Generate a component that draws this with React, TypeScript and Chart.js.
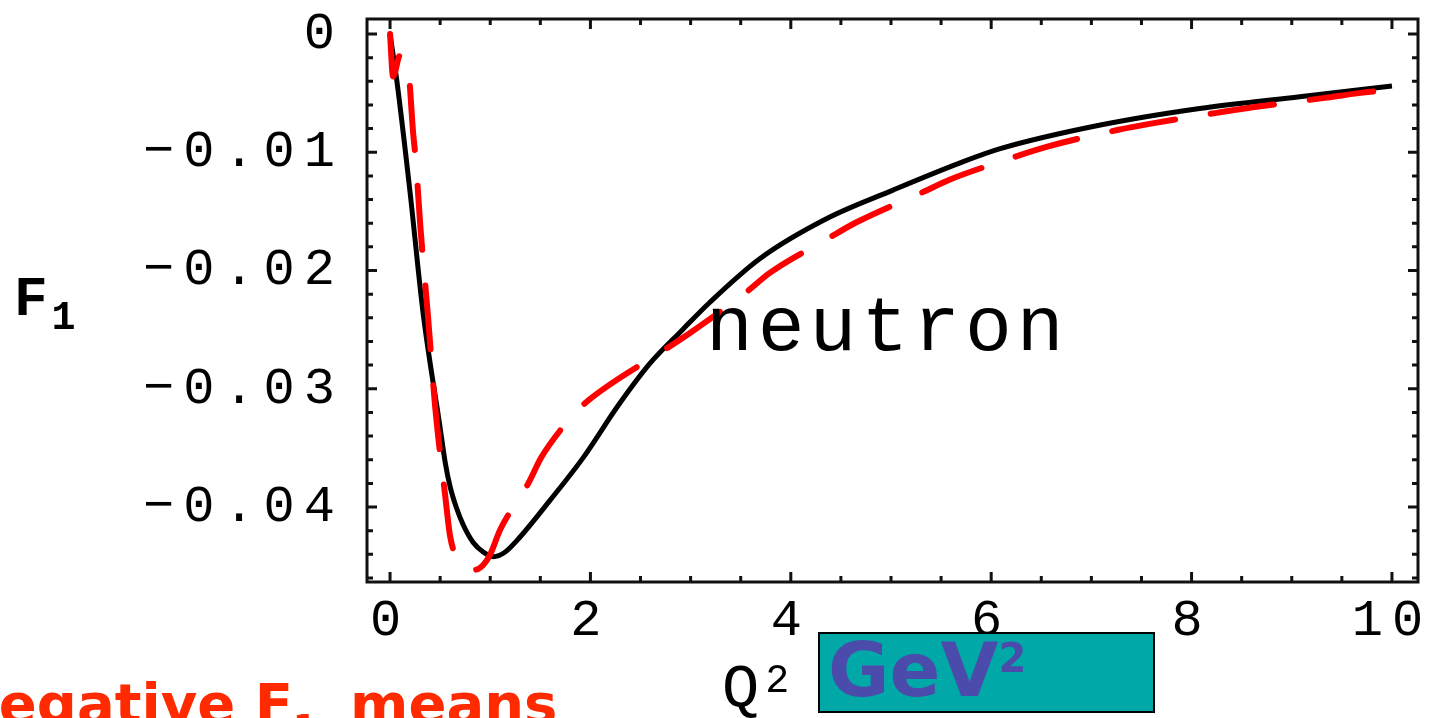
import React, { useEffect, useRef } from 'react';
import { Chart, registerables } from 'chart.js';

Chart.register(...registerables);

// ---- data ----
const blackX = [0, 0.067, 0.2, 0.33, 0.5, 0.55, 0.6, 0.66, 0.73, 0.83, 0.93, 1.03, 1.15, 1.27, 1.6, 1.93, 2.27, 2.59, 2.92, 3.19, 3.69, 4.36, 5.02, 5.69, 6.09, 7.09, 8.08, 9.08, 10];
const blackY = [0, -0.0039, -0.0134, -0.0236, -0.0333, -0.0362, -0.0383, -0.0400, -0.0415, -0.0430, -0.0438, -0.0442, -0.0438, -0.0428, -0.0394, -0.0358, -0.0315, -0.0279, -0.0250, -0.0227, -0.0190, -0.0156, -0.0132, -0.0109, -0.0097, -0.0077, -0.0063, -0.0053, -0.0044];

const redX = [0, 0.03, 0.1, 0.18, 0.23, 0.26, 0.3, 0.38, 0.45, 0.55, 0.6, 0.68, 0.77, 0.85, 0.93, 1.0, 1.1, 1.38, 1.51, 1.7, 1.91, 2.15, 2.74, 2.99, 3.56, 3.79, 4.39, 4.66, 5.31, 5.59, 6.09, 6.57, 7.27, 7.58, 8.3, 8.61, 9.33, 9.67, 10];
const redY = [0, -0.0036, -0.0018, -0.0029, -0.0083, -0.011, -0.016, -0.024, -0.0315, -0.039, -0.0425, -0.0445, -0.0453, -0.0453, -0.0449, -0.044, -0.0419, -0.038, -0.0358, -0.0335, -0.0315, -0.0299, -0.0267, -0.0253, -0.0218, -0.0202, -0.0172, -0.0159, -0.0134, -0.0123, -0.0108, -0.0095, -0.0081, -0.0076, -0.0066, -0.0062, -0.0054, -0.005, -0.0047];

const xTickValues = [0, 2, 4, 6, 8, 10];
const xTickLabels = ['0', '2', '4', '6', '8', '10'];
const yTickValues = [0, -0.01, -0.02, -0.03, -0.04];
const yTickLabels = ['0', '\u22120.01', '\u22120.02', '\u22120.03', '\u22120.04'];

const xMinorTicks = [0, 0.5, 1, 1.5, 2, 2.5, 3, 3.5, 4, 4.5, 5, 5.5, 6, 6.5, 7, 7.5, 8, 8.5, 9, 9.5, 10];
const yMinorTicks = [0, -0.002, -0.004, -0.006, -0.008, -0.01, -0.012, -0.014, -0.016, -0.018, -0.02, -0.022, -0.024, -0.026, -0.028, -0.03, -0.032, -0.034, -0.036, -0.038, -0.04, -0.042, -0.044, -0.046];

const xMin = -0.23;
const xMax = 10.26;
const yMin = -0.04634;
const yMax = 0.00127;

const MONO = '"Liberation Mono", "DejaVu Sans Mono", monospace';
const SANS_BOLD = '"DejaVu Sans", Verdana, sans-serif';

const frameTicksPlugin = {
  id: 'frameTicks',
  afterDatasetsDraw(chart: any) {
    const { ctx, chartArea: a, scales } = chart;
    const xs = scales.x;
    const ys = scales.y;
    ctx.save();
    ctx.strokeStyle = '#111';
    ctx.lineWidth = 3;
    ctx.lineCap = 'butt';
    ctx.beginPath();
    xMinorTicks.forEach((v) => {
      const px = xs.getPixelForValue(v);
      const len = xTickValues.includes(v) ? 10 : 6;
      ctx.moveTo(px, a.bottom);
      ctx.lineTo(px, a.bottom - len);
      ctx.moveTo(px, a.top);
      ctx.lineTo(px, a.top + len);
    });
    yMinorTicks.forEach((v) => {
      const py = ys.getPixelForValue(v);
      const len = yTickValues.includes(v) ? 10 : 6;
      ctx.moveTo(a.left, py);
      ctx.lineTo(a.left + len, py);
      ctx.moveTo(a.right, py);
      ctx.lineTo(a.right - len, py);
    });
    ctx.stroke();
    ctx.strokeRect(a.left, a.top, a.right - a.left, a.bottom - a.top);
    ctx.restore();
  },
};

const spacingPlugin = {
  id: 'labelSpacing',
  beforeDraw(chart: any) {
    chart.ctx.letterSpacing = '9px';
  },
  afterDraw(chart: any) {
    chart.ctx.letterSpacing = '0px';
  },
};

const zeroPadding = (s: any) => {
  s.paddingTop = 0;
  s.paddingBottom = 0;
  s.paddingLeft = 0;
  s.paddingRight = 0;
};

export default function App() {
  const canvasRef = useRef<HTMLCanvasElement | null>(null);

  useEffect(() => {
    if (!canvasRef.current) return;
    const chart = new Chart(canvasRef.current, {
      type: 'line',
      data: {
        datasets: [
          {
            label: 'dashed',
            data: redX.map((x, i) => ({ x, y: redY[i] })),
            borderColor: '#ff0000',
            borderWidth: 6,
            borderDash: [64, 36],
            borderCapStyle: 'round',
            pointRadius: 0,
            cubicInterpolationMode: 'monotone',
            fill: false,
          },
          {
            label: 'solid',
            data: blackX.map((x, i) => ({ x, y: blackY[i] })),
            borderColor: '#000000',
            borderWidth: 5,
            pointRadius: 0,
            cubicInterpolationMode: 'monotone',
            fill: false,
          },
        ],
      },
      options: {
        animation: false,
        responsive: true,
        maintainAspectRatio: false,
        layout: { padding: { top: 19, right: 15, left: 0, bottom: 0 }, autoPadding: false },
        plugins: { legend: { display: false }, tooltip: { enabled: false } },
        scales: {
          x: {
            type: 'linear',
            min: xMin,
            max: xMax,
            grid: { display: false, drawTicks: false },
            border: { display: false },
            afterFit: (s: any) => {
              s.height = 136;
              zeroPadding(s);
            },
            afterBuildTicks: (s: any) => {
              s.ticks = xTickValues.map((v) => ({ value: v }));
            },
            ticks: {
              font: { family: MONO, size: 52 },
              color: '#000',
              padding: 8,
              maxRotation: 0,
              autoSkip: false,
              callback: (_v: any, i: number) => xTickLabels[i],
            },
          },
          y: {
            type: 'linear',
            min: yMin,
            max: yMax,
            grid: { display: false, drawTicks: false },
            border: { display: false },
            afterFit: (s: any) => {
              s.width = 367;
              zeroPadding(s);
            },
            afterBuildTicks: (s: any) => {
              s.ticks = yTickValues.map((v) => ({ value: v }));
            },
            ticks: {
              font: { family: MONO, size: 52 },
              color: '#000',
              padding: 23,
              autoSkip: false,
              callback: (_v: any, i: number) => yTickLabels[i],
            },
          },
        },
      },
      plugins: [spacingPlugin, frameTicksPlugin],
    } as any);
    return () => chart.destroy();
  }, []);

  return (
    <div
      style={{
        position: 'fixed',
        left: 0,
        top: 0,
        width: 1433,
        height: 718,
        overflow: 'hidden',
        background: '#ffffff',
      }}
    >
      <div style={{ position: 'absolute', left: 0, top: 0, width: 1433, height: 718 }}>
        <canvas ref={canvasRef} />
      </div>

      {/* y axis label F1 */}
      <div
        style={{
          position: 'absolute',
          left: 14,
          top: 272,
          fontFamily: MONO,
          fontWeight: 'bold',
          fontSize: 56,
          lineHeight: 1,
          color: '#000',
          whiteSpace: 'nowrap',
        }}
      >
        F<span style={{ fontSize: 40, position: 'relative', top: 14, marginLeft: 4 }}>1</span>
      </div>

      {/* x axis label Q^2 */}
      <div
        style={{
          position: 'absolute',
          left: 722,
          top: 659,
          fontFamily: MONO,
          fontSize: 62,
          lineHeight: 1,
          color: '#000',
          whiteSpace: 'nowrap',
        }}
      >
        Q<span style={{ fontSize: 40, position: 'relative', top: -14, marginLeft: 6 }}>2</span>
      </div>

      {/* curve annotation */}
      <div
        style={{
          position: 'absolute',
          left: 706,
          top: 290,
          fontFamily: MONO,
          fontSize: 78,
          letterSpacing: 5,
          lineHeight: 1,
          color: '#000',
          whiteSpace: 'nowrap',
        }}
      >
        neutron
      </div>

      {/* GeV^2 box */}
      <div
        style={{
          position: 'absolute',
          left: 818,
          top: 632,
          width: 337,
          height: 81,
          boxSizing: 'border-box',
          border: '2px solid #000',
          background: '#00a8a8',
        }}
      />
      <div
        style={{
          position: 'absolute',
          left: 828,
          top: 633,
          fontFamily: SANS_BOLD,
          fontWeight: 'bold',
          fontSize: 75,
          lineHeight: 1,
          color: '#4b4bab',
          whiteSpace: 'nowrap',
        }}
      >
        GeV<span style={{ fontSize: 40, position: 'relative', top: -24, marginLeft: 0 }}>2</span>
      </div>

      {/* red caption, cut off by the window */}
      <div
        style={{
          position: 'absolute',
          left: -48,
          top: 676,
          fontFamily: SANS_BOLD,
          fontWeight: 'bold',
          fontSize: 56,
          lineHeight: 1,
          color: '#ff2a00',
          whiteSpace: 'nowrap',
        }}
      >
        Negative F<span style={{ fontSize: 34, position: 'relative', top: 16, marginRight: 14 }}>1</span> means
      </div>
    </div>
  );
}
